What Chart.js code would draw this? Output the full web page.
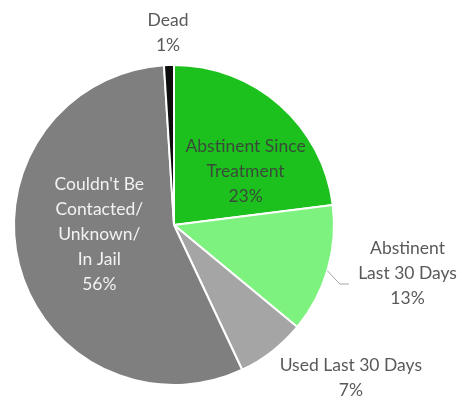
<!DOCTYPE html>
<html>
<head>
<meta charset="utf-8">
<script src="https://cdn.jsdelivr.net/npm/chart.js@4/dist/chart.umd.min.js"></script>
<style>
html,body{margin:0;padding:0;background:#fff;}
#wrap{width:472px;height:400px;}
</style>
</head>
<body>
<div id="wrap"><canvas id="c" width="472" height="400"></canvas></div>
<script>
// Data
const categories = ["Abstinent Since Treatment", "Abstinent Last 30 Days", "Used Last 30 Days", "Couldn't Be Contacted/ Unknown/ In Jail", "Dead"];
const labelLines = [["Abstinent Since", "Treatment"], ["Abstinent", "Last 30 Days"], ["Used Last 30 Days"], ["Couldn't Be", "Contacted/", "Unknown/", "In Jail"], ["Dead"]];
const percentValues = [23, 13, 7, 56, 1];

// Styles
const sliceColors = ["#1DC11D", "#7EF27E", "#A5A5A5", "#7F7F7F", "#0D0D0D"];
const labelColors = ["#3A4A3A", "#595959", "#595959", "#F2F2F2", "#595959"];
// label placement: [angle deg clockwise from top, distance as fraction of radius]
const labelPlace = [[53, 0.56], [101.6, 1.49], [130.8, 1.46], [263.2, 0.47], [-1.8, 1.2]];

const labelPlugin = {
  id: 'sliceLabels',
  afterDatasetsDraw(chart) {
    const ctx = chart.ctx;
    const meta = chart.getDatasetMeta(0);
    const arc0 = meta.data[0];
    const cx = arc0.x, cy = arc0.y, R = arc0.outerRadius;
    ctx.save();
    const pt = (a, f) => {
      const t = a * Math.PI / 180;
      return [cx + R * f * Math.sin(t), cy - R * f * Math.cos(t)];
    };
    // leader line for "Abstinent Last 30 Days"
    const p1 = pt(106.6, 1.0), p2 = pt(109.6, 1.1);
    ctx.strokeStyle = '#A6A6A6';
    ctx.lineWidth = 1;
    ctx.beginPath();
    ctx.moveTo(p1[0], p1[1]);
    ctx.lineTo(p2[0], p2[1]);
    ctx.lineTo(p2[0] + 9, p2[1]);
    ctx.stroke();

    ctx.font = '17.5px Lato, "Open Sans", sans-serif';
    ctx.textAlign = 'center';
    ctx.textBaseline = 'middle';
    const lh = 25;
    meta.data.forEach((el, i) => {
      const lines = labelLines[i].concat([percentValues[i] + '%']);
      const [x, y] = pt(labelPlace[i][0], labelPlace[i][1]);
      const y0 = y - (lines.length - 1) * lh / 2;
      ctx.fillStyle = labelColors[i];
      lines.forEach((ln, k) => ctx.fillText(ln, x, y0 + k * lh));
    });
    ctx.restore();
  }
};

new Chart(document.getElementById('c'), {
  type: 'pie',
  data: {
    labels: categories,
    datasets: [{
      data: percentValues,
      backgroundColor: sliceColors,
      borderColor: '#FFFFFF',
      borderWidth: 2
    }]
  },
  options: {
    responsive: false,
    animation: false,
    layout: { padding: { left: 13, right: 137, top: 63, bottom: 13 } },
    plugins: { legend: { display: false }, tooltip: { enabled: false } }
  },
  plugins: [labelPlugin]
});
</script>
</body>
</html>
